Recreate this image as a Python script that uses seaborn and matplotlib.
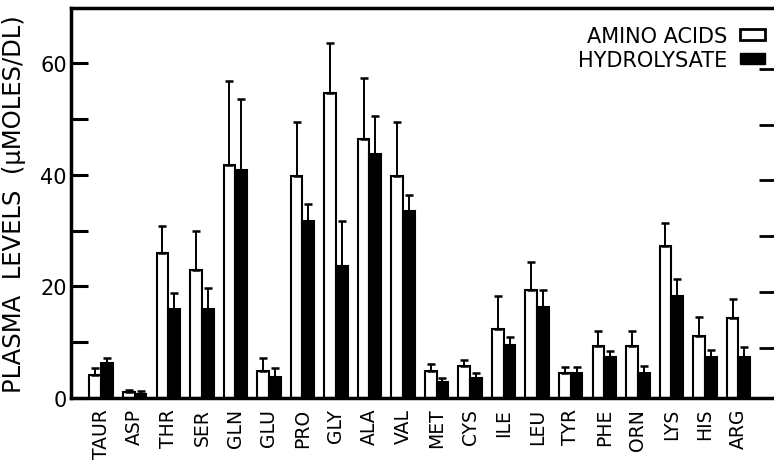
import numpy as np
import pandas as pd
import matplotlib
matplotlib.use('Agg')
import matplotlib.pyplot as plt
import seaborn as sns
from matplotlib.patches import Patch

# valores (umoles/dl), media y desviacion
aminoacidos = ['TAUR', 'ASP', 'THR', 'SER', 'GLN', 'GLU', 'PRO', 'GLY', 'ALA', 'VAL',
               'MET', 'CYS', 'ILE', 'LEU', 'TYR', 'PHE', 'ORN', 'LYS', 'HIS', 'ARG']
media_aa = [4.1, 1.0, 26.0, 22.9, 41.8, 4.9, 39.8, 54.6, 46.5, 39.8,
            4.8, 5.7, 12.3, 19.3, 4.4, 9.3, 9.3, 27.3, 11.1, 14.3]
sd_aa = [1.2, 0.4, 4.8, 7.0, 15.0, 2.2, 9.7, 9.0, 10.9, 9.6,
         1.3, 1.1, 6.0, 5.1, 1.2, 2.7, 2.7, 4.0, 3.4, 3.4]
media_hid = [6.2, 0.8, 15.9, 15.9, 40.8, 3.8, 31.8, 23.7, 43.7, 33.6,
             2.8, 3.6, 9.5, 16.4, 4.4, 7.4, 4.5, 18.3, 7.3, 7.3]
sd_hid = [0.9, 0.5, 3.0, 3.9, 12.8, 1.6, 3.0, 8.0, 6.8, 2.8,
          0.8, 0.9, 1.5, 2.9, 1.2, 1.0, 1.3, 3.1, 1.3, 1.9]
grupos = ['AMINO ACIDS', 'HYDROLYSATE']

df = pd.DataFrame({
    'aminoacido': aminoacidos * 2,
    'grupo': [grupos[0]] * len(aminoacidos) + [grupos[1]] * len(aminoacidos),
    'valor': media_aa + media_hid,
})

sns.set_style('white')
plt.rcParams['font.family'] = ['DejaVu Sans']
plt.rcParams['text.color'] = 'black'
plt.rcParams['axes.labelcolor'] = 'black'
plt.rcParams['xtick.color'] = 'black'
plt.rcParams['ytick.color'] = 'black'

fig = plt.figure(figsize=(7.74, 4.64), dpi=100)
ax = fig.add_axes([71 / 774, 65 / 464, 706 / 774, 390.5 / 464])

sns.barplot(data=df, x='aminoacido', y='valor', hue='grupo', order=aminoacidos,
            hue_order=grupos, palette={grupos[0]: 'white', grupos[1]: 'black'},
            edgecolor='black', linewidth=1.5, width=0.7, errorbar=None,
            legend=False, ax=ax)

# barras de error solo hacia arriba
for cont, sd in zip(ax.containers, [sd_aa, sd_hid]):
    xs = [b.get_x() + b.get_width() / 2 for b in cont]
    hs = [b.get_height() for b in cont]
    ax.errorbar(xs, hs, yerr=[np.zeros(len(sd)), sd], fmt='none', ecolor='black',
                elinewidth=1.4, capsize=3, capthick=1.8, zorder=3)

ax.set_xlim(-0.9, 20.15)
ax.set_ylim(0, 70)
ax.set_yticks([0, 20, 40, 60])
ax.set_yticks([10, 30, 50], minor=True)
ax.tick_params(axis='y', which='both', direction='in', length=12, width=2.2,
               left=True, right=False, pad=3, labelsize=15)
ax.tick_params(axis='x', length=0, pad=7, labelsize=13.5, rotation=90)

for s in ['left', 'bottom', 'top']:
    ax.spines[s].set_linewidth(2.5)
    ax.spines[s].set_color('black')
ax.spines['right'].set_visible(False)

# marcas del lado derecho
ax2 = ax.twinx()
ax2.set_ylim(1, 71)
ax2.set_yticks([10, 20, 30, 40, 50, 60])
ax2.tick_params(axis='y', direction='in', length=13, width=2, labelright=False)
for s in ax2.spines.values():
    s.set_visible(False)

ax.set_xlabel('')
ax.set_ylabel('PLASMA  LEVELS  (\u03bcMOLES/DL)', fontsize=17.5)
ax.yaxis.set_label_coords(-0.064, 0.5)

manijas = [Patch(facecolor='white', edgecolor='black', linewidth=2),
           Patch(facecolor='black', edgecolor='black')]
ax.legend(manijas, grupos, loc='upper right', bbox_to_anchor=(765 / 774, 437 / 464),
          bbox_transform=fig.transFigure, frameon=False, markerfirst=False,
          fontsize=15, handlelength=1.2, handleheight=0.45, handletextpad=0.6,
          borderpad=0, borderaxespad=0, labelspacing=0.2)

fig.savefig('out.png', dpi=100)
